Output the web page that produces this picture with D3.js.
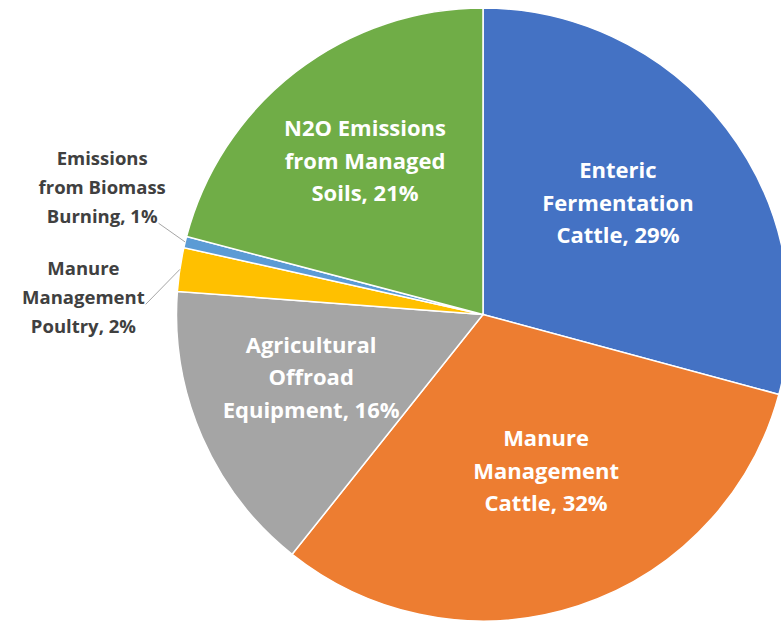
<!DOCTYPE html>
<html>
<head>
<meta charset="utf-8">
<script src="https://cdn.jsdelivr.net/npm/d3@7"></script>
<style>
    body { margin: 0; background: #fff; }
    svg { display: block; }
</style>
</head>
<body>
<svg id="chart" width="781" height="622"></svg>
<script>
'use strict';

// slice values (percent), read clockwise from 12 o'clock
let categories = ["Enteric Fermentation Cattle", "Manure Management Cattle", "Agricultural Offroad Equipment",
                  "Manure Management Poultry", "Emissions from Biomass Burning", "N2O Emissions from Managed Soils"],
    values = [29.2, 31.5, 15.5, 2.3, 0.6, 20.9],
    pctLabels = ["29%", "32%", "16%", "2%", "1%", "21%"],
    labelLines = [
        ["Enteric", "Fermentation", "Cattle, 29%"],
        ["Manure", "Management", "Cattle, 32%"],
        ["Agricultural", "Offroad", "Equipment, 16%"],
        ["Manure", "Management", "Poultry, 2%"],
        ["Emissions", "from Biomass", "Burning, 1%"],
        ["N2O Emissions", "from Managed", "Soils, 21%"]
    ],
    colors = ["#4472C4", "#ED7D31", "#A5A5A5", "#FFC000", "#5B9BD5", "#70AD47"];

let svg = d3.select("#chart"),
    cx = 483, cy = 314.5,
    radius = 306.5;

// label placement: angle nudge (deg) from slice middle and distance as a fraction of radius
let placement = [
    { nudge: -2.1, dist: 0.571 },
    { nudge: -3.8, dist: 0.55 },
    { nudge: 3.5, dist: 0.597 },
    { nudge: -6, dist: 1.305, out: true, leaderLine: 1 },
    { nudge: 4.8, dist: 1.31, out: true, leaderLine: 2 },
    { nudge: 0.1, dist: 0.632 }
];

let pie = d3.pie().sort(null).value(function(d) { return d; });
let arcs = pie(values);

let arc = d3.arc().innerRadius(0).outerRadius(radius);

let g = svg.append("g").attr("transform", "translate(" + cx + "," + cy + ")");

g.append("g").attr("class", "slices")
    .selectAll("path")
    .data(arcs)
    .enter().append("path")
    .attr("d", arc)
    .attr("fill", function(d, i) { return colors[i]; })
    .attr("stroke", "#fff")
    .attr("stroke-width", 1.5);

let labels = g.append("g").attr("class", "labels");

arcs.forEach(function(d, i) {
    let p = placement[i],
        mid = (d.startAngle + d.endAngle) / 2,
        a = mid + p.nudge * Math.PI / 180,
        x = Math.sin(a) * radius * p.dist,
        y = -Math.cos(a) * radius * p.dist,
        lh = p.out ? 29 : 32.5,
        size = p.out ? 18.5 : 22;

    let text = labels.append("text")
        .attr("text-anchor", "middle")
        .attr("font-family", "'Open Sans', sans-serif")
        .attr("font-weight", "bold")
        .attr("font-size", size + "px")
        .attr("fill", p.out ? "#404040" : "#fff");

    let lines = labelLines[i],
        n = lines.length,
        spans = [];
    lines.forEach(function(line, k) {
        let ly = y + (k - (n - 1) / 2) * lh;
        let t = text.append("tspan")
            .attr("x", x)
            .attr("y", ly)
            .attr("dy", "0.35em")
            .text(line);
        spans.push({ node: t.node(), y: ly });
    });

    if (p.out) {
        //leader goes from the end of one text line to the slice edge
        let s = spans[p.leaderLine],
            w = s.node.getComputedTextLength(),
            x0 = x + w / 2 + 1,
            y0 = s.y + 7,
            x1 = Math.sin(mid) * radius,
            y1 = -Math.cos(mid) * radius;
        labels.append("line")
            .attr("x1", x0).attr("y1", y0)
            .attr("x2", x1).attr("y2", y1)
            .attr("stroke", "#A6A6A6")
            .attr("stroke-width", 1);
    }
});
</script>
</body>
</html>
